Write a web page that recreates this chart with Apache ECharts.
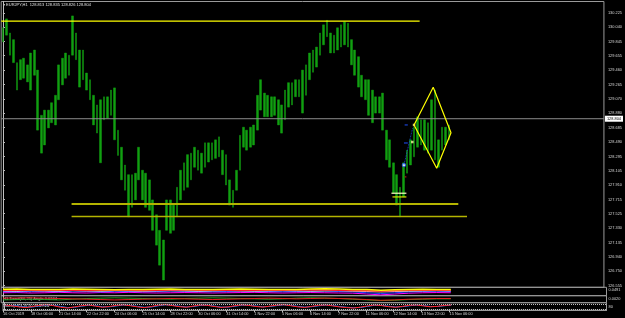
<!DOCTYPE html>
<html><head><meta charset="utf-8">
<script src="https://cdn.jsdelivr.net/npm/echarts@6/dist/echarts.min.js"></script>
<style>html,body{margin:0;padding:0;background:#000;}#c{width:625px;height:318px;}</style>
</head><body><div id="c"></div>
<script>
// ---------- data ----------
const symbolTitle = '\u25BE EURJPY,H1  128.813 128.835 128.826 128.804';
const panelTitles = ['MACD(12,26,9) 0.0103 0.0159 0.0119', 'H1 Trend(60,25) Angle 0.0244', 'Stoch(14,3,3) 50.45 49.24'];
const timeLabels = ['16 Oct 2019','18 Oct 06:00','21 Oct 14:00','22 Oct 22:00','24 Oct 06:00','25 Oct 14:00','28 Oct 22:00','30 Oct 06:00','31 Oct 14:00','1 Nov 22:00','5 Nov 06:00','6 Nov 14:00','7 Nov 22:00','11 Nov 06:00','12 Nov 14:00','13 Nov 22:00','15 Nov 06:00'];
const priceTicks = [130.225,130.040,129.845,129.655,129.460,129.265,129.070,128.880,128.685,128.490,128.295,128.105,127.910,127.715,127.525,127.330,127.135,126.940,126.750,126.555];
const SLOTS = 173; // 4-hour slots across the chart width (incl. right shift)
const barHigh = [130.03,130.15,129.96,129.87,129.56,129.60,129.62,129.53,129.69,129.73,129.46,128.85,128.92,128.92,129.02,129.12,129.53,129.62,129.69,129.66,
 130.19,129.96,129.73,129.73,129.42,129.33,129.12,128.99,129.06,129.10,129.10,129.19,129.22,128.65,128.42,128.18,128.05,128.05,128.07,128.42,
 128.11,128.07,127.98,127.71,127.51,127.30,127.17,127.71,127.71,127.64,127.88,128.11,128.21,128.32,128.34,128.42,128.38,128.34,128.48,128.48,
 128.48,128.52,128.56,128.38,128.32,127.98,127.84,128.11,128.58,128.69,128.65,128.69,128.72,129.12,129.33,129.15,129.12,129.10,129.10,129.06,
 128.99,129.19,129.29,129.29,129.33,129.33,129.46,129.53,129.69,129.73,129.77,129.96,130.07,130.13,129.96,129.93,130.03,130.07,130.11,130.09,
 129.87,129.73,129.64,129.39,129.33,129.33,129.19,129.10,129.10,129.15,128.65,128.52,128.21,128.05,127.88,128.21,128.38,128.52,128.69,128.83,
 128.79,128.79,128.75,129.06,129.19,128.52,128.69,128.69,128.72];
const barLow = [129.84,129.93,129.66,129.56,129.19,129.33,129.35,129.30,129.19,129.39,128.65,128.34,128.45,128.68,128.75,128.72,129.06,129.26,129.35,129.39,
 129.66,129.60,129.23,129.33,129.19,129.06,128.72,128.61,128.21,128.79,128.81,128.85,128.52,128.31,127.98,127.84,127.48,127.61,127.71,127.98,
 127.71,127.61,127.57,127.30,127.10,126.83,126.63,127.30,127.26,127.30,127.48,127.71,127.84,127.88,127.98,128.15,128.11,128.07,128.15,128.22,
 128.25,128.27,128.29,128.05,127.91,127.64,127.61,127.84,128.11,128.42,128.38,128.42,128.45,128.65,128.92,128.83,128.83,128.83,128.85,128.72,
 128.61,128.79,128.96,128.99,129.10,129.10,128.88,129.12,129.33,129.43,129.50,129.66,129.80,129.91,129.69,129.69,129.73,129.77,129.80,129.77,
 129.53,129.39,129.23,129.10,129.06,128.85,128.75,128.88,128.88,128.65,128.25,128.15,127.80,127.64,127.48,127.75,128.07,128.18,128.29,128.42,
 128.45,128.38,128.34,128.38,128.25,128.15,128.38,128.45,128.52];
const currentPrice = 128.804;
const resistance = [[-0.5,130.12],[119.6,130.12]];
const support1 = [[19.7,127.655],[130.7,127.655]];
const support2 = [[19.7,127.486],[133.2,127.486]];
const markWhite = [[111.5,127.80],[115.8,127.80]];
const markYellow = [[111.8,127.75],[115.8,127.75]];
const diamond = [[118.0,128.72],[123.5,129.227],[128.6,128.616],[124.5,128.136],[118.0,128.72]];
const waveDash1 = [[115.3,128.72],[116.2,128.72]];
const waveDash2 = [[115.1,128.477],[116.2,128.477]];
const waveRed = [[115.3,128.02],[115.8,128.02]];
const waveLine = [[115.1,128.18],[117.6,128.68]];
const waveDot = [[115.1,128.18]];
const wavePoints = [[118.0,128.72],[117.5,128.49]];
// indicator panels (one value every 4 slots for panels 1-2, every 2 slots for panel 3)
const p1Yellow = [0.55,0.6,0.5,0.45,0.5,0.6,0.55,0.5,0.4,0.45,0.5,0.55,0.6,0.5,0.45,0.5,0.55,0.6,0.55,0.5,0.45,0.5,0.6,0.65,0.6,0.5,0.45,0.3,0.4,0.5,0.55,0.5,0.5];
const p1Red = [0.3,0.35,0.3,0.25,0.35,0.3,0.25,0.3,0.35,0.3,0.25,0.3,0.35,0.4,0.3,0.35,0.3,0.25,0.3,0.35,0.3,0.35,0.4,0.35,0.3,0.25,0.2,0.1,0.2,0.3,0.35,0.3,0.3];
const p1Blue = [0,-0.1,0.05,0,-0.05,0.1,0,-0.1,0.05,0,-0.05,0,0.1,0.05,0,-0.05,0,0.05,0.1,0,-0.05,0,0.05,0.1,0,-0.1,-0.3,-0.5,-0.3,-0.1,0,0.05,0];
const p1Magenta = [-0.3,-0.25,-0.35,-0.3,-0.2,-0.3,-0.35,-0.25,-0.3,-0.2,-0.3,-0.35,-0.3,-0.25,-0.3,-0.35,-0.3,-0.25,-0.2,-0.3,-0.35,-0.3,-0.25,-0.3,-0.35,-0.4,-0.6,-0.8,-0.6,-0.4,-0.3,-0.25,-0.3];
const p1White = [0.15,0.1,0.2,0.15,0.1,0.2,0.15,0.1,0.2,0.15,0.1,0.15,0.2,0.15,0.1,0.15,0.2,0.15,0.1,0.15,0.2,0.15,0.1,0.15,0.2,0.1,0,-0.1,0,0.1,0.15,0.2,0.15];
const p2Red = [0.3,0.35,0.4,0.3,0.2,0.1,0,-0.1,-0.2,-0.1,0,0.1,0.2,0.1,0,-0.1,0,0.1,0.2,0.3,0.2,0.1,0.2,0.3,0.2,0.1,-0.1,-0.3,-0.2,0,0.1,0.2,0.2];
const p2Green = [-0.2,-0.1,0,-0.1,-0.2,0,0.2,0.3,0.4,0.3,0.2,0.1,0,0.2,0.3,0.4,0.3,0.2,0.1,0,0.1,0.3,0.4,0.3,0.2,0,-0.2,-0.4,-0.3,-0.1,0,0.1,0.1];
const p3Red = [70,60,45,35,50,65,75,60,40,30,45,60,70,55,40,50,65,72,60,45,35,50,68,75,62,48,40,55,70,66,50,38,45,60,72,64,50,42,55,68,74,60,45,38,52,66,70,58,44,36,30,42,58,70,62,48,40,52,66,70,58,46,52,64,70];
const p3Blue = [65,64,55,42,44,58,70,66,50,36,40,54,66,60,46,46,58,70,64,52,40,44,60,72,66,54,44,50,64,68,56,42,42,54,68,66,56,46,50,62,72,64,52,42,48,60,68,62,50,40,34,38,52,66,64,54,44,48,60,68,62,50,50,60,68];

// ---------- build ----------
const slotCats = Array.from({length: SLOTS}, (_, i) => i);
const labelCats = Array.from({length: SLOTS + 1}, (_, i) => i);
const candles = barHigh.map((h, i) => [barLow[i], h, barLow[i], h]);
const every = (arr, step) => arr.map((v, k) => [k * step, v]);
const seg = (d, color, w, xi, yi, extra) => Object.assign({
  type: 'line', data: d, xAxisIndex: xi, yAxisIndex: yi, symbol: 'none', silent: true,
  lineStyle: {color: color, width: w}, animation: false
}, extra || {});

const FONT = 'Liberation Sans';
const LBL = {color: '#d8d8d8', fontSize: 3.9, fontFamily: FONT};
const GRID_L = 1.2, GRID_R = 18.5, BORDER = '#9a9a9a';
const TXT = (t, x, y) => ({type: 'text', left: x, top: y, style: {text: t, fill: '#e0e0e0', font: '4px "Liberation Sans"'}});

const chart = echarts.init(document.getElementById('c'), null, {renderer: 'canvas'});
chart.setOption({
  backgroundColor: '#000',
  animation: false,
  grid: [
    {left: GRID_L, right: GRID_R, top: 1.5, height: 285.8, show: true, borderColor: BORDER, borderWidth: 1, backgroundColor: '#000'},
    {left: GRID_L, right: GRID_R, top: 287.3, height: 8.4, show: true, borderColor: BORDER, borderWidth: 1},
    {left: GRID_L, right: GRID_R, top: 295.7, height: 7, show: true, borderColor: BORDER, borderWidth: 1},
    {left: GRID_L, right: GRID_R, top: 302.7, height: 7.6, show: true, borderColor: BORDER, borderWidth: 1}
  ],
  xAxis: [
    {type: 'category', gridIndex: 0, data: slotCats, boundaryGap: true, show: false},
    {type: 'value', gridIndex: 0, min: -0.5, max: SLOTS - 0.5, show: false},
    {type: 'value', gridIndex: 1, min: -0.5, max: SLOTS - 0.5, show: false},
    {type: 'value', gridIndex: 2, min: -0.5, max: SLOTS - 0.5, show: false},
    {type: 'value', gridIndex: 3, min: -0.5, max: SLOTS - 0.5, show: false},
    {type: 'category', gridIndex: 3, data: labelCats, boundaryGap: false, position: 'bottom',
      axisLine: {show: true, lineStyle: {color: BORDER}},
      axisTick: {show: true, length: 2, interval: (i) => i % 8 === 0 && i / 8 < timeLabels.length, lineStyle: {color: '#c0c0c0'}},
      axisLabel: Object.assign({}, LBL, {interval: 0, align: 'left', margin: 1.5,
        formatter: (v, i) => (i % 8 === 0 && i / 8 < timeLabels.length) ? timeLabels[i / 8] : ''})}
  ],
  yAxis: [
    {type: 'value', gridIndex: 0, position: 'right', min: 126.532, max: 130.384, splitLine: {show: false},
      axisLine: {show: true, lineStyle: {color: '#c0c0c0'}},
      axisTick: {show: true, length: 2, customValues: priceTicks, lineStyle: {color: '#c0c0c0'}},
      axisLabel: Object.assign({}, LBL, {margin: 4, customValues: priceTicks, formatter: (v) => v.toFixed(3)})},
    {type: 'value', gridIndex: 1, position: 'right', min: -1, max: 1, splitLine: {show: false},
      axisLine: {show: true, lineStyle: {color: '#c0c0c0'}}, axisTick: {show: false},
      axisLabel: Object.assign({}, LBL, {margin: 2, customValues: [0.4], formatter: () => '0.0491'})},
    {type: 'value', gridIndex: 2, position: 'right', min: -1, max: 1, splitLine: {show: false},
      axisLine: {show: true, lineStyle: {color: '#c0c0c0'}}, axisTick: {show: false},
      axisLabel: Object.assign({}, LBL, {margin: 2, customValues: [0.2], formatter: () => '0.0020'})},
    {type: 'value', gridIndex: 3, position: 'right', min: 0, max: 100, splitLine: {show: false},
      axisLine: {show: true, lineStyle: {color: '#c0c0c0'}}, axisTick: {show: false},
      axisLabel: Object.assign({}, LBL, {margin: 2, customValues: [50], formatter: () => '80'})}
  ],
  graphic: [
    TXT(symbolTitle, 3, 3), TXT(panelTitles[0], 3, 288.8), TXT(panelTitles[1], 3, 297), TXT(panelTitles[2], 3, 304.2)
  ],
  series: [
    {type: 'candlestick', xAxisIndex: 0, yAxisIndex: 0, data: candles, barWidth: 2.2,
      itemStyle: {color: '#10a010', color0: '#10a010', borderColor: '#14a814', borderColor0: '#14a814', borderWidth: 0.4}},
    seg([[-0.5, currentPrice], [SLOTS - 0.5, currentPrice]], '#8c8c8c', 1, 1, 0, {
      endLabel: {show: true, formatter: () => currentPrice.toFixed(3), backgroundColor: '#fff', color: '#000',
        fontSize: 3.9, fontFamily: FONT, padding: [1, 2], distance: 1}}),
    seg(resistance, '#ffff00', 1.2, 1, 0),
    seg(support1, '#b4b400', 2, 1, 0),
    seg(support2, '#b4b400', 1.6, 1, 0),
    seg(markWhite, '#ffffc0', 1.2, 1, 0),
    seg(markYellow, '#e0e000', 1.2, 1, 0),
    seg(diamond, '#ffff00', 1.2, 1, 0),
    seg(waveLine, '#2050ff', 0.8, 1, 0, {lineStyle: {color: '#2050ff', width: 0.8, type: 'dotted'}}),
    seg(waveDash1, '#2050ff', 1, 1, 0),
    seg(waveDash2, '#2050ff', 1, 1, 0),
    seg(waveRed, '#d02020', 1, 1, 0),
    {type: 'scatter', xAxisIndex: 1, yAxisIndex: 0, data: waveDot, symbol: 'circle', symbolSize: 3.5, silent: true,
      itemStyle: {color: '#ffffff', borderColor: '#2050ff', borderWidth: 1}},
    {type: 'scatter', xAxisIndex: 1, yAxisIndex: 0, data: wavePoints, symbol: 'rect', symbolSize: 2.5, silent: true,
      itemStyle: {color: '#ffffa0'}},
    seg(every(p1Magenta, 4), '#ff00ff', 1, 2, 1),
    seg(every(p1Blue, 4), '#2040ff', 1, 2, 1),
    seg(every(p1White, 4), '#ffffff', 1, 2, 1),
    seg(every(p1Red, 4), '#ff2020', 1.5, 2, 1),
    seg(every(p1Yellow, 4), '#ffff00', 1.5, 2, 1),
    seg(every(p2Green, 4), '#20a020', 1, 3, 2),
    seg(every(p2Red, 4), '#e02020', 1, 3, 2),
    seg(every(p3Blue, 2), '#3080ff', 1, 4, 3, {
      markLine: {silent: true, symbol: 'none', label: {show: false},
        lineStyle: {color: '#c0c0c0', type: 'dotted', width: 1}, data: [{yAxis: 80}, {yAxis: 20}]}}),
    seg(every(p3Red, 2), '#ff2020', 1, 4, 3)
  ]
});
</script></body></html>
